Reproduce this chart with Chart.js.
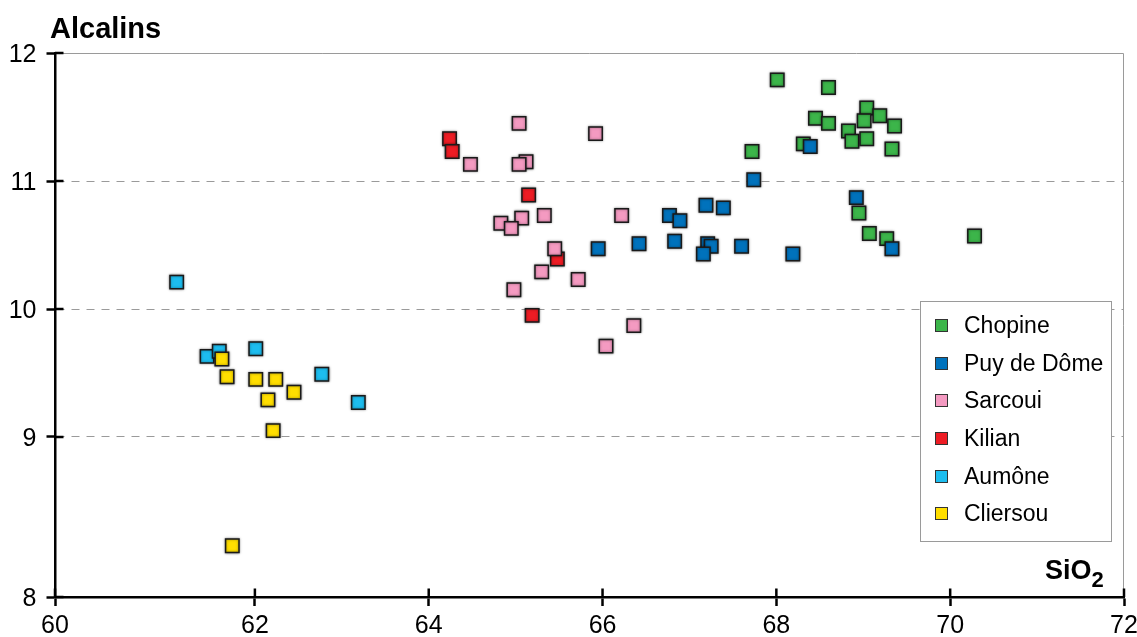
<!DOCTYPE html>
<html lang="fr">
<head>
<meta charset="utf-8">
<title>Alcalins / SiO2</title>
<script src="https://cdn.jsdelivr.net/npm/chart.js@4.4.1/dist/chart.umd.min.js"></script>
<style>
  html, body { margin: 0; padding: 0; background: #fff; }
  #wrap { position: relative; width: 1137px; height: 637px; color: #000;
          font-family: 'Liberation Sans', Arial, Helvetica, sans-serif; }
  #chart { position: absolute; left: 0; top: 0; }
  .ytitle { position: absolute; left: 50px; top: 14px; font-weight: bold; font-size: 29px; line-height: 29px; }
  .xtitle { position: absolute; left: 1045px; top: 557px; font-weight: bold; font-size: 27px; line-height: 27px; }
  .xtitle sub { font-size: 22px; vertical-align: baseline; position: relative; top: 8px; }
  #legend { position: absolute; left: 920px; top: 301px; width: 190px; height: 234px;
            border: 1px solid #9a9a9a; background: #fff; padding-top: 5px; box-sizing: content-box; }
  #legend .row { height: 37.6px; display: flex; align-items: center; font-size: 23px; }
  #legend .sw { width: 11px; height: 11px; border: 1px solid #333; margin: 0 16px 0 14px; }
</style>
</head>
<body>
<div id="wrap">
  <canvas id="chart" width="1137" height="637"></canvas>
  <div class="ytitle">Alcalins</div>
  <div class="xtitle">SiO<sub>2</sub></div>
  <div id="legend"></div>
</div>
<script>
// ---- data: [SiO2, alcalins] ----
const chopine = [
  [68.01, 11.79], [68.60, 11.73], [69.04, 11.57], [69.19, 11.51], [68.45, 11.49],
  [68.60, 11.45], [69.01, 11.47], [69.36, 11.43], [68.83, 11.39], [68.87, 11.31],
  [69.04, 11.33], [68.31, 11.29], [69.33, 11.25], [67.72, 11.23], [68.95, 10.75],
  [69.07, 10.59], [69.27, 10.55], [70.28, 10.57]
];
const puyDeDome = [
  [65.95, 10.47], [66.42, 10.51], [67.74, 11.01], [67.19, 10.81], [67.39, 10.79],
  [66.77, 10.73], [66.89, 10.69], [68.92, 10.87], [66.83, 10.53], [67.21, 10.51],
  [67.25, 10.49], [67.16, 10.43], [67.60, 10.49], [68.19, 10.43], [69.33, 10.47],
  [68.39, 11.27]
];
const sarcoui = [
  [65.04, 11.45], [65.92, 11.37], [64.48, 11.13], [65.12, 11.15], [65.04, 11.13],
  [65.33, 10.73], [66.22, 10.73], [65.07, 10.71], [64.83, 10.67], [64.95, 10.63],
  [65.45, 10.47], [65.30, 10.29], [65.72, 10.23], [64.98, 10.15], [66.36, 9.87],
  [66.04, 9.71]
];
const kilian = [
  [64.24, 11.33], [64.27, 11.23], [65.15, 10.89], [65.48, 10.39], [65.19, 9.95]
];
const aumone = [
  [61.10, 10.21], [61.45, 9.63], [61.59, 9.67], [62.01, 9.69], [62.77, 9.49], [63.19, 9.27]
];
const cliersou = [
  [61.62, 9.61], [61.68, 9.47], [62.01, 9.45], [62.24, 9.45], [62.45, 9.35],
  [62.15, 9.29], [62.21, 9.05], [61.74, 8.15]
];

const seriesNames = ["Chopine", "Puy de Dôme", "Sarcoui", "Kilian", "Aumône", "Cliersou"];
const seriesData = [chopine, puyDeDome, sarcoui, kilian, aumone, cliersou];
const seriesColors = ["#3cb54a", "#0072bc", "#f49ac1", "#ed1c24", "#1dbdef", "#ffde00"];
// which series sits on top (lower = drawn later)
const drawOrder = [4, 3, 2, 5, 6, 1];

// axes: the first interval of each axis is drawn a bit longer than the others
const X_MIN = 59.7, X_MAX = 72;
const xTicks = [59.7, 62, 64, 66, 68, 70, 72];
const xTickLabels = ["60", "62", "64", "66", "68", "70", "72"];
const Y_MIN = 7.75, Y_MAX = 12;
const yTicks = [7.75, 9, 10, 11, 12];
const yTickLabels = ["8", "9", "10", "11", "12"];
const yGridLines = [9, 10, 11];

Chart.defaults.font.family = "'Liberation Sans', Arial, Helvetica, sans-serif";
Chart.defaults.color = "#000";

// thin grey frame on top/right + inner half of the cross ticks
const framePlugin = {
  id: "frame",
  beforeDatasetsDraw(chart) {
    const { ctx, chartArea: a } = chart;
    const xs = chart.scales.x, ys = chart.scales.y;
    ctx.save();
    ctx.strokeStyle = "#9a9a9a";
    ctx.lineWidth = 1;
    ctx.beginPath();
    ctx.moveTo(a.left, a.top + 0.5);
    ctx.lineTo(a.right - 0.5, a.top + 0.5);
    ctx.lineTo(a.right - 0.5, a.bottom);
    ctx.stroke();
    ctx.strokeStyle = "#000";
    ctx.lineWidth = 2.5;
    ctx.beginPath();
    xs.ticks.forEach((t) => {
      const p = xs.getPixelForValue(t.value);
      ctx.moveTo(p, a.bottom);
      ctx.lineTo(p, a.bottom - 8.5);
    });
    ys.ticks.forEach((t) => {
      const p = ys.getPixelForValue(t.value);
      ctx.moveTo(a.left, p);
      ctx.lineTo(a.left + 8.5, p);
    });
    ctx.stroke();
    ctx.restore();
  },
};

// soft grey halo round the markers
const haloPlugin = {
  id: "halo",
  beforeDatasetsDraw(chart) {
    const c = chart.ctx;
    c.save();
    c.shadowColor = "rgba(0,0,0,0.45)";
    c.shadowBlur = 2.5;
  },
  afterDatasetsDraw(chart) {
    chart.ctx.restore();
  },
};

new Chart(document.getElementById("chart"), {
  type: "scatter",
  data: {
    datasets: seriesNames.map((n, i) => ({
      label: n,
      data: seriesData[i].map((p) => ({ x: p[0], y: p[1] })),
      backgroundColor: seriesColors[i],
      borderColor: "#1a1a1a",
      borderWidth: 1.5,
      pointStyle: "rect",
      pointRadius: 9.5,
      order: drawOrder[i],
    })),
  },
  options: {
    responsive: false,
    animation: false,
    events: [],
    layout: { padding: { top: 53, right: 13, bottom: 0, left: 0 } },
    plugins: { legend: { display: false }, tooltip: { enabled: false } },
    scales: {
      x: {
        type: "linear",
        min: X_MIN, max: X_MAX,
        afterBuildTicks: (s) => { s.ticks = xTicks.map((v) => ({ value: v })); },
        afterFit: (s) => { s.height = 40; s.paddingLeft = 0; s.paddingRight = 0; },
        ticks: {
          callback: (v, i) => xTickLabels[i],
          font: { size: 25 }, color: "#000", padding: 5,
          maxRotation: 0, autoSkip: false,
        },
        grid: { drawOnChartArea: false, tickLength: 9, tickColor: "#000", tickWidth: 2.5 },
        border: { color: "#000", width: 2.5 },
      },
      y: {
        type: "linear",
        min: Y_MIN, max: Y_MAX,
        afterBuildTicks: (s) => { s.ticks = yTicks.map((v) => ({ value: v })); },
        afterFit: (s) => { s.width = 55; },
        ticks: {
          callback: (v, i) => yTickLabels[i],
          font: { size: 25 }, color: "#000", padding: 10, labelOffset: 2,
          autoSkip: false,
        },
        grid: {
          color: (ctx) => (ctx.tick && yGridLines.includes(ctx.tick.value) ? "#9a9a9a" : "transparent"),
          lineWidth: 1,
          tickLength: 8.5, tickColor: "#000", tickWidth: 2.5,
        },
        border: { color: "#000", width: 2.5, dash: [8, 7] },
      },
    },
  },
  plugins: [framePlugin, haloPlugin],
});

// legend built from the series lists
const leg = document.getElementById("legend");
seriesNames.forEach((n, i) => {
  const row = document.createElement("div");
  row.className = "row";
  const sw = document.createElement("span");
  sw.className = "sw";
  sw.style.background = seriesColors[i];
  const tx = document.createElement("span");
  tx.textContent = n;
  row.appendChild(sw);
  row.appendChild(tx);
  leg.appendChild(row);
});
</script>
</body>
</html>
